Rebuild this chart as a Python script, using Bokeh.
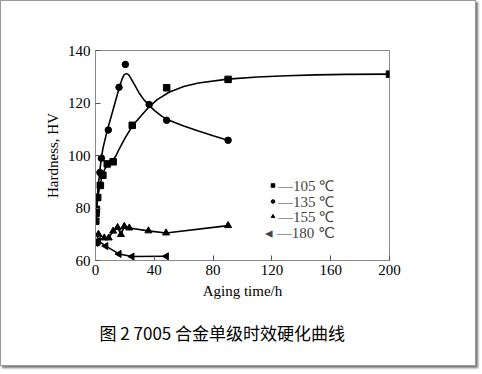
import math
from bokeh.plotting import figure
from bokeh.models import Range1d, Legend, LegendItem, Title, FixedTicker
from bokeh.embed import file_html
from bokeh.resources import INLINE

# ---- data ----
t105 = [0.2, 0.4, 0.6, 1.5, 3.3, 5, 8, 12, 25, 48.4, 90.2, 200]
hv105 = [75, 78, 79.5, 84, 88.6, 92.5, 96.8, 97.6, 111.5, 125.8, 129, 131]
curve105_t = [0, 0.5, 1, 1.5, 2, 3, 4, 5, 6, 8, 10, 12, 14, 16, 20, 25, 30, 36, 42, 50, 60, 70, 90, 110, 130, 150, 170, 200]
curve105_hv = [74, 78, 81, 83.5, 85.5, 88.5, 91, 93, 94.5, 96.3, 97.3, 98.3, 100, 102.3, 106.5, 111.2, 114.5, 118.3, 121.3, 124.1, 126.3, 127.6, 129.1, 129.9, 130.4, 130.7, 130.9, 131]

t135 = [1, 3, 4, 8.7, 16, 20.3, 36.5, 48.4, 90.2]
hv135 = [84, 93.5, 99, 109.7, 126, 134.7, 119.4, 113.4, 105.8]
curve135_t = [0, 0.5, 1, 1.5, 2, 3, 4, 5, 6, 8, 10, 12, 14, 16, 18, 19.5, 21, 22.5, 24, 27, 30, 33, 36, 40, 45, 50, 60, 70, 80, 90]
curve135_hv = [74, 78, 82, 86, 89, 94.5, 99, 102.5, 105, 109.5, 113.5, 117.5, 121.5, 125.5, 129, 130.8, 131.2, 130.8, 129.5, 126.5, 123.5, 121.2, 119.4, 117.2, 115, 113.4, 111.2, 109.3, 107.5, 105.8]

t155 = [0.5, 2, 6, 9, 12, 15, 17.3, 19.6, 23, 36, 48, 90.2]
hv155 = [66.5, 70, 68.6, 68.6, 71.2, 72.6, 69.9, 73, 72.4, 71.3, 70.5, 73.3]

t180 = [0.3, 2, 7, 16, 24.8, 48.2]
hv180 = [66.7, 67.5, 65.5, 62.5, 61.5, 61.6]

x_ticks = [0, 40, 80, 120, 160, 200]
y_ticks = [60, 80, 100, 120, 140]
legend_labels = ["\u2014105 \u2103", "\u2014135 \u2103", "\u2014155 \u2103", "\u25C2 \u2014180 \u2103"]
x_label = "Aging time/h"
y_label = "Hardness, HV"
caption = "图 2 7005 合金单级时效硬化曲线"

SERIF = "Liberation Serif"

p = figure(width=476, height=366, x_range=Range1d(0, 200), y_range=Range1d(60, 140),
           output_backend="svg", toolbar_location=None,
           min_border_left=94, min_border_right=88, min_border_top=49, min_border_bottom=107)
p.styles = {"border": "1px solid #9a9a9a", "box-shadow": "2px 2px 2px #777"}
p.grid.visible = False
p.outline_line_color = "#8a8a8a"
p.outline_line_width = 1
p.background_fill_color = "white"
p.border_fill_color = "white"

for ax in (p.xaxis[0], p.yaxis[0]):
    ax.axis_line_color = "#8a8a8a"
    ax.major_tick_line_color = "#555555"
    ax.major_tick_in = 5
    ax.major_tick_out = 0
    ax.minor_tick_line_color = None
    ax.major_label_text_font = SERIF
    ax.major_label_text_font_size = "15px"
    ax.major_label_text_color = "black"
    ax.axis_label_text_font = SERIF
    ax.axis_label_text_font_size = "15px"
    ax.axis_label_text_font_style = "normal"
    ax.axis_label_text_color = "black"

p.xaxis.ticker = FixedTicker(ticks=x_ticks)
p.yaxis.ticker = FixedTicker(ticks=y_ticks)
p.xaxis.axis_label = x_label
p.yaxis.axis_label = y_label
p.xaxis.major_label_standoff = 4
p.yaxis.major_label_standoff = 5
p.xaxis.axis_label_standoff = 5
p.yaxis.axis_label_standoff = 4

lw = 1.6
p.line(curve105_t, curve105_hv, line_color="black", line_width=lw)
p.line(curve135_t, curve135_hv, line_color="black", line_width=lw)
p.line(t155, hv155, line_color="black", line_width=lw)
l180 = p.line(t180, hv180, line_color="black", line_width=lw)

r105 = p.scatter(t105, hv105, marker="square", size=6.5, color="black")
r135 = p.scatter(t135, hv135, marker="circle", size=6.5, color="black")
r155 = p.scatter(t155, hv155, marker="triangle", size=7, color="black")
r180 = p.scatter(t180, hv180, marker="triangle", angle=math.pi / 2, size=7, color="black")

# one legend per row, so that the rows sit as close as in the original
legend_rows = [(r105, 9, 173, 65), (r135, 9, 173, 49), (r155, 9, 173, 34), (l180, 0, 170, 18)]
for i, (rend, gw, lx, ly) in enumerate(legend_rows):
    lg = Legend(items=[LegendItem(label=legend_labels[i], renderers=[rend])],
                location=(lx, ly), orientation="vertical",
                background_fill_alpha=0, border_line_alpha=0,
                padding=0, margin=0, spacing=0,
                glyph_width=gw, glyph_height=12, label_height=12,
                label_standoff=1 if gw else 0,
                label_text_font=SERIF, label_text_font_size="15px")
    p.add_layout(lg, "center")

cap = Title(text=caption, align="left", offset=4, standoff=33,
            text_font="Noto Sans CJK SC", text_font_size="17px", text_font_style="normal",
            text_color="black")
p.add_layout(cap, "below")

open("out.html", "w").write(file_html(p, INLINE))
